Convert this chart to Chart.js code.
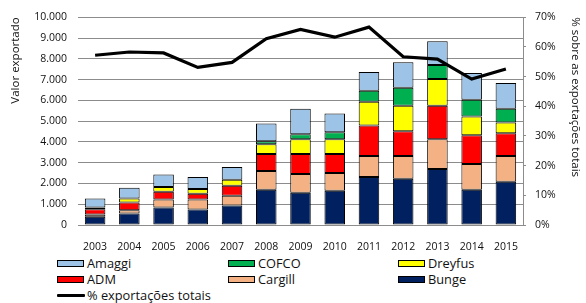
<!DOCTYPE html>
<html>
<head>
<meta charset="utf-8">
<script src="https://cdn.jsdelivr.net/npm/chart.js@4"></script>
<style>
  body { margin: 0; background: #fff; font-family: "Open Sans", sans-serif; }
  #wrap { position: relative; width: 586px; height: 303px; }
  #chartBox { position: absolute; left: 0; top: 0; width: 586px; height: 252px; }
  #legend { position: absolute; left: 57px; top: 255px; display: grid;
            grid-template-columns: 171px 170px 150px; grid-auto-rows: 16px;
            font-size: 12.8px; color: #111; }
  .item { display: flex; align-items: center; white-space: nowrap; }
  .swatch { width: 25px; height: 5px; border: 1px solid #000; margin-right: 3px; }
  .lineSw { width: 28px; height: 3px; background: #000; margin-right: 2px; border-radius: 1px; }
</style>
</head>
<body>
<div id="wrap">
  <div id="chartBox"><canvas id="exportChart"></canvas></div>
  <div id="legend"></div>
</div>
<script>
// values
const years = ['2003', '2004', '2005', '2006', '2007', '2008', '2009', '2010', '2011', '2012', '2013', '2014', '2015'];
const bunge = [395, 557, 843, 746, 937, 1698, 1556, 1651, 2317, 2222, 2698, 1698, 2079];
const cargill = [115, 157, 381, 478, 476, 905, 904, 857, 1000, 1095, 1429, 1239, 1238];
const adm = [252, 366, 381, 284, 476, 810, 953, 905, 1477, 1191, 1619, 1380, 1096];
const dreyfus = [81, 191, 220, 222, 286, 476, 714, 714, 1143, 1238, 1286, 905, 524];
const cofco = [0, 0, 0, 0, 0, 143, 238, 333, 523, 857, 666, 810, 666];
const amaggi = [428, 524, 604, 587, 619, 857, 1238, 905, 905, 1238, 1143, 1285, 1238];
const pctTotal = [57.2, 58.3, 58.0, 53.1, 54.8, 62.8, 65.9, 63.3, 66.7, 56.7, 55.9, 49.2, 52.6];

const colors = {
    Bunge: '#002060',
    Cargill: '#F4B183',
    ADM: '#FF0000',
    Dreyfus: '#FFFF00',
    COFCO: '#00B050',
    Amaggi: '#9DC3E6'
};

const FONT = { family: '"Open Sans", sans-serif', size: 10.5 };
const TITLE_FONT = { family: '"Open Sans", sans-serif', size: 11.5 };
const TEXT = '#111';
const GRID = '#8c8c8c';

function bar(label, data) {
    return {
        type: 'bar',
        label: label,
        data: data,
        backgroundColor: colors[label],
        borderColor: '#000',
        borderWidth: 1,
        borderSkipped: false,
        categoryPercentage: 1,
        barPercentage: 0.6,
        yAxisID: 'y',
        order: 1
    };
}

const datasets = [
    { type: 'line', label: '% exportações totais', data: pctTotal, yAxisID: 'y1',
      borderColor: '#000', borderWidth: 3.2, pointRadius: 0, tension: 0, order: 0 },
    bar('Bunge', bunge),
    bar('Cargill', cargill),
    bar('ADM', adm),
    bar('Dreyfus', dreyfus),
    bar('COFCO', cofco),
    bar('Amaggi', amaggi)
];

const ctx = document.getElementById('exportChart').getContext('2d');
new Chart(ctx, {
    data: { labels: years, datasets: datasets },
    options: {
        responsive: true,
        maintainAspectRatio: false,
        animation: false,
        layout: { padding: { top: 8, left: 0, right: 0, bottom: 0 } },
        plugins: { legend: { display: false }, tooltip: { enabled: false } },
        scales: {
            x: {
                stacked: true,
                grid: { display: false },
                border: { display: true, color: GRID },
                ticks: { color: TEXT, font: FONT, padding: 8, maxRotation: 0 },
                afterFit: s => { s.height = 27; }
            },
            y: {
                stacked: true,
                min: 0, max: 10000,
                ticks: { stepSize: 1000, color: TEXT, font: FONT, padding: 11,
                         callback: v => v.toLocaleString('de-DE') },
                grid: { color: GRID, drawTicks: false },
                border: { display: false },
                title: { display: true, text: 'Valor exportado', align: 'end',
                         color: TEXT, font: TITLE_FONT, padding: { top: 9, bottom: 0 } },
                afterFit: s => { s.width = 78; }
            },
            y1: {
                position: 'right',
                min: 0, max: 70,
                ticks: { stepSize: 10, color: TEXT, font: FONT, padding: 9,
                         callback: v => v + '%' },
                grid: { drawOnChartArea: false, color: GRID, tickLength: 3 },
                border: { display: true, color: GRID },
                title: { display: true, text: '% sobre as exportações totais', align: 'end',
                         color: TEXT, font: TITLE_FONT, padding: { top: 4, bottom: 0 } },
                afterFit: s => { s.width = 63; }
            }
        }
    }
});

// html legend in the original's order
const legendOrder = ['Amaggi', 'COFCO', 'Dreyfus', 'ADM', 'Cargill', 'Bunge'];
const legend = document.getElementById('legend');
legendOrder.forEach(name => {
    const el = document.createElement('div');
    el.className = 'item';
    el.innerHTML = '<span class="swatch" style="background:' + colors[name] + '"></span>' + name;
    legend.appendChild(el);
});
const lineItem = document.createElement('div');
lineItem.className = 'item';
lineItem.innerHTML = '<span class="lineSw"></span>% exportações totais';
legend.appendChild(lineItem);
</script>
</body>
</html>
